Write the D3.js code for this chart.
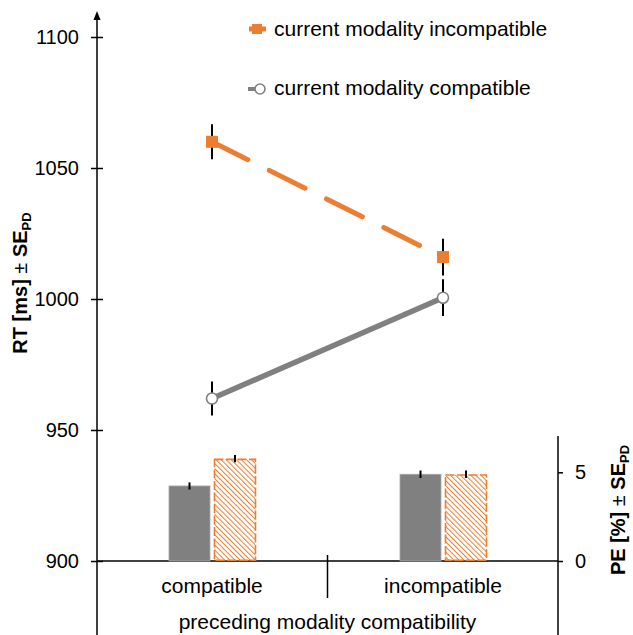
<!DOCTYPE html>
<html><head><meta charset="utf-8">
<script src="https://cdn.jsdelivr.net/npm/d3@7"></script>
<style>
html,body{margin:0;padding:0;background:#fff;}
svg{display:block;font-family:"Liberation Sans",Arial,sans-serif;}
</style></head>
<body>
<script>
// ---- data ----
const categories = ["compatible", "incompatible"];
const rtIncompatible = [1060, 1016];
const rtIncompatibleSE = [6.7, 7.0];
const rtCompatible = [962, 1000.5];
const rtCompatibleSE = [6.5, 7.0];
const peCompatible = [4.23, 4.89];
const peCompatibleSE = [0.2, 0.21];
const peIncompatible = [5.77, 4.89];
const peIncompatibleSE = [0.2, 0.21];
const rtTicks = [900, 950, 1000, 1050, 1100];
const peTicks = [0, 5];
const legendLabels = ["current modality incompatible", "current modality compatible"];

const W = 633, H = 635;
const ORANGE = "#ED7D31", GRAY = "#808080";

const svg = d3.select("body").append("svg").attr("width", W).attr("height", H);

const defs = svg.append("defs");
const pat = defs.append("pattern").attr("id", "hatch").attr("patternUnits", "userSpaceOnUse")
  .attr("width", 3.6).attr("height", 3.6).attr("patternTransform", "rotate(-45)");
pat.append("rect").attr("width", 3.6).attr("height", 3.6).attr("fill", "#fff");
pat.append("line").attr("x1", 0).attr("y1", 0).attr("x2", 0).attr("y2", 3.6)
  .attr("stroke", ORANGE).attr("stroke-width", 2);

// scales
const x = d3.scalePoint().domain(categories).range([212, 443]);
const y = d3.scaleLinear().domain([900, 1100]).range([561, 37]);
const yPE = d3.scaleLinear().domain([0, 5]).range([561, 472.3]);
const axisLeftX = 97, axisRightX = 558;

// left axis
const gL = svg.append("g").attr("transform", `translate(${axisLeftX},0)`);
gL.call(d3.axisLeft(y).tickValues(rtTicks).tickSize(6).tickPadding(12).tickFormat(d3.format("d")));
gL.select(".domain").remove();
gL.selectAll(".tick line").attr("x1", -6).attr("x2", 6).attr("stroke", "#000").attr("stroke-width", 1.5);
gL.selectAll(".tick text").attr("font-size", 20).attr("fill", "#000").attr("font-family", "Liberation Sans, Arial, sans-serif");
gL.append("line").attr("x1", 0).attr("x2", 0).attr("y1", 14).attr("y2", H).attr("stroke", "#000").attr("stroke-width", 1.5);
gL.append("path").attr("d", "M0,11 L-3.5,20 L3.5,20 Z").attr("fill", "#000");

// right axis
const gR = svg.append("g").attr("transform", `translate(${axisRightX},0)`);
gR.call(d3.axisRight(yPE).tickValues(peTicks).tickSize(5).tickPadding(12).tickFormat(d3.format("d")));
gR.select(".domain").remove();
gR.selectAll(".tick line").attr("stroke", "#000").attr("stroke-width", 1.5);
gR.selectAll(".tick text").attr("font-size", 20).attr("fill", "#000").attr("font-family", "Liberation Sans, Arial, sans-serif");
gR.append("line").attr("x1", 0).attr("x2", 0).attr("y1", yPE(7.04)).attr("y2", H).attr("stroke", "#000").attr("stroke-width", 1.5);

// x axis baseline
svg.append("line").attr("x1", axisLeftX).attr("x2", axisRightX).attr("y1", y(900)).attr("y2", y(900))
  .attr("stroke", "#000").attr("stroke-width", 1.5);
// separator
const sepX = (x(categories[0]) + x(categories[1])) / 2;
svg.append("line").attr("x1", sepX).attr("x2", sepX).attr("y1", 555).attr("y2", 598)
  .attr("stroke", "#000").attr("stroke-width", 1.5);

// category labels
svg.selectAll(".cat").data(categories).enter().append("text")
  .attr("x", d => x(d)).attr("y", 593).attr("text-anchor", "middle")
  .attr("font-size", 21).attr("fill", "#000").text(d => d);
svg.append("text").attr("x", sepX).attr("y", 629).attr("text-anchor", "middle")
  .attr("font-size", 21).attr("fill", "#000").text("preceding modality compatibility");

// bars (PE)
const bw = 41;
svg.selectAll(".barC").data(categories).enter().append("rect")
  .attr("x", d => x(d) - 43).attr("width", bw)
  .attr("y", (d, i) => yPE(peCompatible[i])).attr("height", (d, i) => yPE(0) - yPE(peCompatible[i]))
  .attr("fill", GRAY).attr("stroke", "#a8a8a8").attr("stroke-width", 0.8);
svg.selectAll(".barI").data(categories).enter().append("rect")
  .attr("x", d => x(d) + 2.5).attr("width", bw)
  .attr("y", (d, i) => yPE(peIncompatible[i]) + 0.75).attr("height", (d, i) => yPE(0) - yPE(peIncompatible[i]) - 1.5)
  .attr("fill", "url(#hatch)").attr("stroke", ORANGE).attr("stroke-width", 1.6).attr("stroke-dasharray", "9,2.5");
// bar error bars
function peErr(vals, ses, off) {
  svg.selectAll(null).data(categories).enter().append("line")
    .attr("x1", d => x(d) + off).attr("x2", d => x(d) + off)
    .attr("y1", (d, i) => yPE(vals[i] + ses[i])).attr("y2", (d, i) => yPE(vals[i] - ses[i]))
    .attr("stroke", "#000").attr("stroke-width", 2);
}
peErr(peCompatible, peCompatibleSE, -22.5);
peErr(peIncompatible, peIncompatibleSE, 23);

// RT error bars
function rtErr(vals, ses) {
  svg.selectAll(null).data(categories).enter().append("line")
    .attr("x1", d => x(d)).attr("x2", d => x(d))
    .attr("y1", (d, i) => y(vals[i] + ses[i])).attr("y2", (d, i) => y(vals[i] - ses[i]))
    .attr("stroke", "#000").attr("stroke-width", 2);
}
rtErr(rtIncompatible, rtIncompatibleSE);
rtErr(rtCompatible, rtCompatibleSE);

// lines
const line = d3.line().x((d, i) => x(categories[i])).y(d => y(d));
svg.append("path").attr("d", line(rtCompatible)).attr("fill", "none")
  .attr("stroke", GRAY).attr("stroke-width", 5.5);
svg.append("path").attr("d", line(rtIncompatible)).attr("fill", "none")
  .attr("stroke", ORANGE).attr("stroke-width", 5).attr("stroke-linecap", "round")
  .attr("stroke-dasharray", "40,24");

// markers
svg.selectAll(".sq").data(rtIncompatible).enter().append("rect")
  .attr("x", (d, i) => x(categories[i]) - 6).attr("y", d => y(d) - 6)
  .attr("width", 12).attr("height", 12).attr("fill", ORANGE);
svg.selectAll(".ci").data(rtCompatible).enter().append("circle")
  .attr("cx", (d, i) => x(categories[i])).attr("cy", d => y(d)).attr("r", 5.5)
  .attr("fill", "#fff").attr("stroke", GRAY).attr("stroke-width", 1.6);

// legend
const lg = svg.append("g");
lg.append("line").attr("x1", 249).attr("x2", 266).attr("y1", 29).attr("y2", 29)
  .attr("stroke", ORANGE).attr("stroke-width", 5);
lg.append("rect").attr("x", 252).attr("y", 24).attr("width", 10).attr("height", 10).attr("fill", ORANGE);
lg.append("line").attr("x1", 248).attr("x2", 258).attr("y1", 89).attr("y2", 89)
  .attr("stroke", GRAY).attr("stroke-width", 4);
lg.append("circle").attr("cx", 260).attr("cy", 89).attr("r", 5)
  .attr("fill", "#fff").attr("stroke", GRAY).attr("stroke-width", 1.6);
lg.selectAll("text").data(legendLabels).enter().append("text")
  .attr("x", 274).attr("y", (d, i) => i === 0 ? 36 : 95)
  .attr("font-size", 21).attr("fill", "#000").text(d => d);

// axis titles
const tL = svg.append("text").attr("transform", "translate(27,283) rotate(-90)")
  .attr("text-anchor", "middle").attr("font-size", 20).attr("font-weight", "bold").attr("fill", "#000");
tL.append("tspan").text("RT [ms] ");
tL.append("tspan").attr("font-weight", "normal").text("±");
tL.append("tspan").text(" SE");
tL.append("tspan").attr("font-size", 13).attr("dy", 4).text("PD");

const tR = svg.append("text").attr("transform", "translate(625,510) rotate(-90)")
  .attr("text-anchor", "middle").attr("font-size", 20).attr("font-weight", "bold").attr("fill", "#000");
tR.append("tspan").text("PE [%] ");
tR.append("tspan").attr("font-weight", "normal").text("±");
tR.append("tspan").text(" SE");
tR.append("tspan").attr("font-size", 13).attr("dy", 4).text("PD");
</script>
</body></html>
